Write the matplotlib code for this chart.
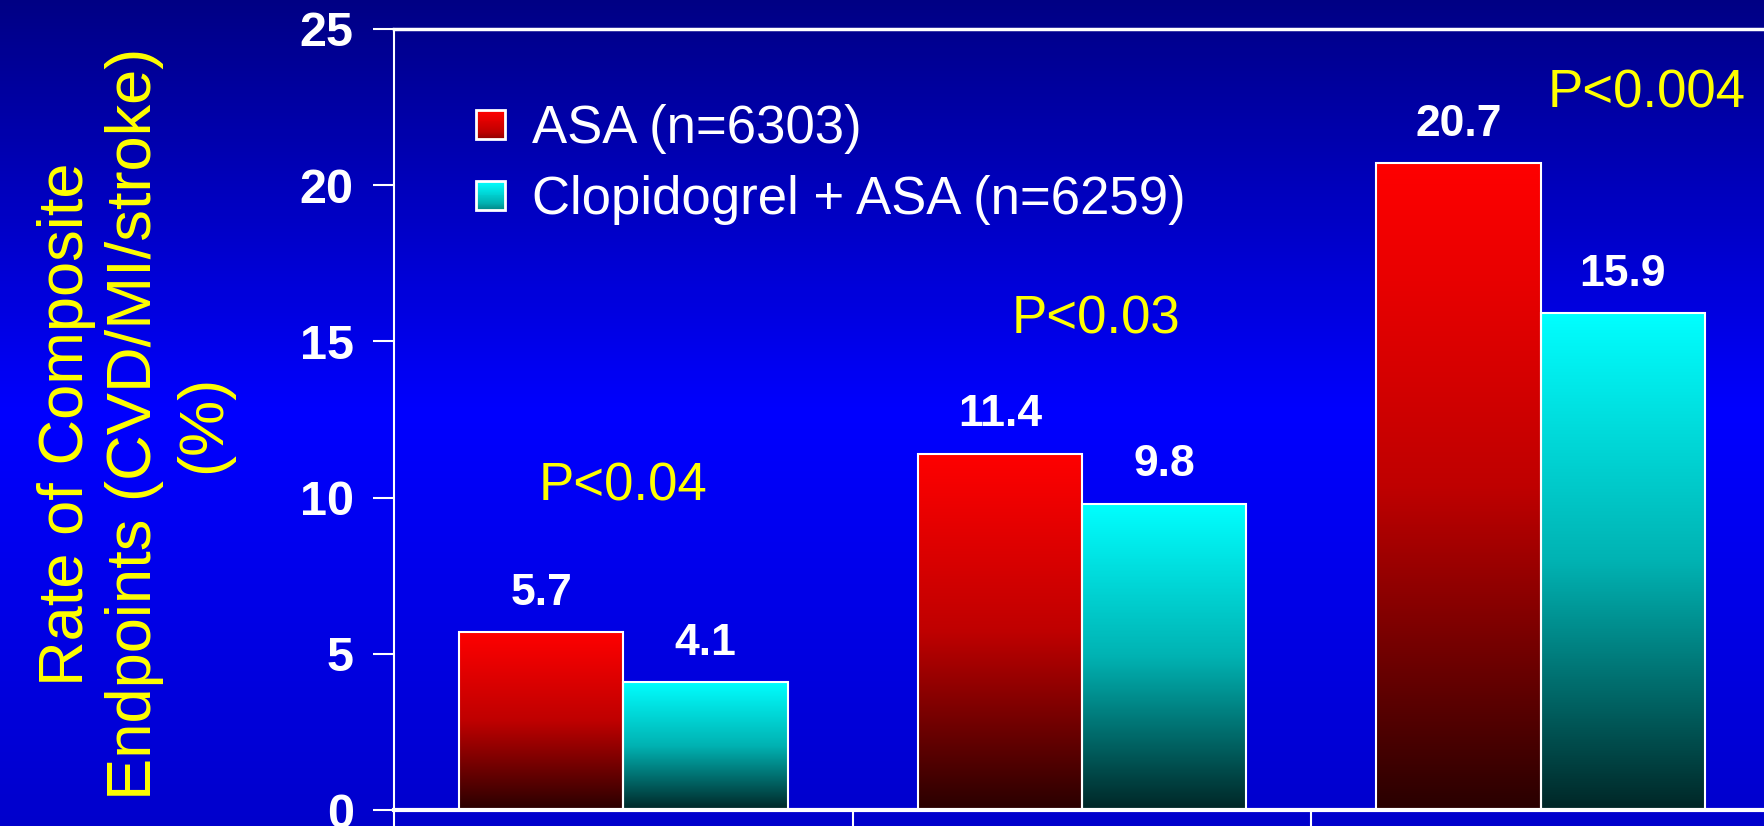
import matplotlib
matplotlib.use('Agg')
import matplotlib.pyplot as plt
import numpy as np
from matplotlib.colors import LinearSegmentedColormap
from matplotlib.legend_handler import HandlerBase
from matplotlib.patches import Rectangle

# data
groups = [0, 1, 2]
asa = [5.7, 11.4, 20.7]
clopi_asa = [4.1, 9.8, 15.9]
p_labels = ['P<0.04', 'P<0.03', 'P<0.004']
p_pos = [(0.0, 10.35), (1.03, 15.7), (2.23, 22.95)]
series_names = ['ASA (n=6303)', 'Clopidogrel + ASA (n=6259)']
yticks = [0, 5, 10, 15, 20, 25]

plt.rcParams['font.family'] = ['Liberation Sans', 'DejaVu Sans']

red_cm = LinearSegmentedColormap.from_list('red', [(0.16, 0.0, 0.0), (0.75, 0.0, 0.0), (1.0, 0.0, 0.0)])
cyan_cm = LinearSegmentedColormap.from_list('cyan', [(0.0, 0.15, 0.15), (0.0, 0.7, 0.7), (0.0, 1.0, 1.0)])

fig = plt.figure(figsize=(17.64, 8.26), dpi=100)

# slide background: dark navy at top, bright blue in the middle, a bit darker at bottom
bg = fig.add_axes([0, 0, 1, 1], zorder=-10)
bg_cm = LinearSegmentedColormap.from_list('bg', [(0, 0, 0.80), (0, 0, 1.0), (0, 0, 0.52)])
bg.imshow(np.linspace(0, 1, 256).reshape(-1, 1), cmap=bg_cm, aspect='auto',
          extent=[0, 1, 0, 1], origin='lower')
bg.axis('off')

ax = fig.add_axes([394 / 1764, 16 / 826, 1376 / 1764, 781 / 826])
ax.patch.set_alpha(0)

w = 0.358
x = np.array(groups)
b1 = ax.bar(x - w / 2, asa, w, facecolor='none', edgecolor='white', lw=1.5, zorder=3)
b2 = ax.bar(x + w / 2, clopi_asa, w, facecolor='none', edgecolor='white', lw=1.5, zorder=3)

grad = np.linspace(0, 1, 256).reshape(-1, 1)
for bars, cm in [(b1, red_cm), (b2, cyan_cm)]:
    for r in bars:
        x0, h = r.get_x(), r.get_height()
        ax.imshow(grad, cmap=cm, aspect='auto', origin='lower',
                  extent=[x0, x0 + r.get_width(), 0, h], zorder=2)
    for r in bars:
        ax.annotate('%.1f' % r.get_height(), (r.get_x() + r.get_width() / 2, r.get_height()),
                    xytext=(0, 28), textcoords='offset points', ha='center', va='center',
                    color='white', fontsize=32, fontweight='bold')

for lab, (px, py) in zip(p_labels, p_pos):
    ax.text(px, py, lab, color='yellow', fontsize=38, ha='center', va='center')

ax.set_xlim(-0.5, 2.5)
ax.set_ylim(0, 25)
ax.set_yticks(yticks)
ax.set_xticks([-0.5, 0.5, 1.5, 2.5])
ax.set_xticklabels([])
ax.tick_params(axis='y', colors='white', length=15, width=1.5, labelsize=35, pad=14)
ax.tick_params(axis='x', colors='white', length=20, width=1.5)
for lab in ax.get_yticklabels():
    lab.set_fontweight('bold')
for s in ['left', 'top', 'bottom']:
    ax.spines[s].set_color('white')
ax.spines['left'].set_linewidth(1.5)
ax.spines['top'].set_linewidth(2.5)
ax.spines['bottom'].set_linewidth(3)
ax.spines['right'].set_visible(False)

# y label sits out on the left in yellow
fig.text(135 / 1764, 1 - 424 / 826, 'Rate of Composite\nEndpoints (CVD/MI/stroke)\n(%)',
         rotation=90, color='yellow', fontsize=45.5, ha='center', va='center', linespacing=1.2)


class GradHandler(HandlerBase):
    def __init__(self, cm):
        super().__init__()
        self.cm = cm

    def create_artists(self, legend, orig, xd, yd, width, height, fontsize, trans):
        s = height * 0.78
        x0 = xd + (width - s) / 2
        y0 = yd + (height - s) / 2
        arts = []
        n = 30
        for i in range(n):
            arts.append(Rectangle((x0, y0 + s * i / n), s, s / n + 0.3,
                                  facecolor=self.cm(0.35 + 0.65 * i / (n - 1)),
                                  edgecolor='none', transform=trans))
        arts.append(Rectangle((x0, y0), s, s, facecolor='none', edgecolor='white',
                              lw=2, transform=trans))
        return arts


h1 = Rectangle((0, 0), 1, 1)
h2 = Rectangle((0, 0), 1, 1)
leg = ax.legend([h1, h2], series_names, loc='upper left', bbox_to_anchor=(0.022, 0.965),
                frameon=False, fontsize=38, labelcolor='white', handlelength=0.7,
                handletextpad=0.45, labelspacing=0.4,
                handler_map={h1: GradHandler(red_cm), h2: GradHandler(cyan_cm)})

fig.savefig('out.png', dpi=100)
